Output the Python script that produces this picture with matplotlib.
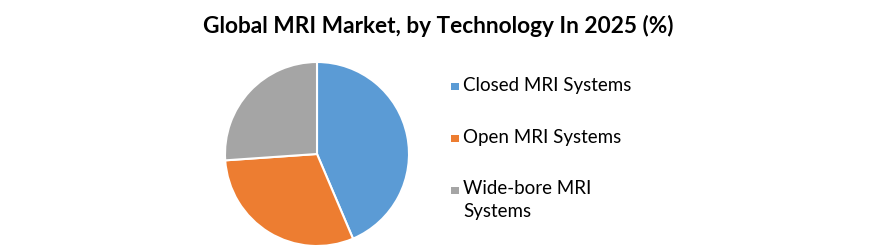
import matplotlib

matplotlib.use('Agg')
import matplotlib.pyplot as plt
from matplotlib.patches import Rectangle

# --- 데이터 ---
categories = ['Closed MRI Systems', 'Open MRI Systems', 'Wide-bore MRI\nSystems']
shares = [43.6, 30.3, 26.1]
colors = ['#5B9BD5', '#ED7D31', '#A5A5A5']

plt.rcParams['font.family'] = ['Lato', 'DejaVu Sans']

W, H = 876, 246
fig = plt.figure(figsize=(W / 100, H / 100), dpi=100)

# 파이 영역 (중심 약 317,154 / 반지름 약 92px)
cx, cy, r = 317, 154, 92
ax = fig.add_axes([(cx - r) / W, (H - cy - r) / H, 2 * r / W, 2 * r / H])
wedges, _ = ax.pie(shares, colors=colors, startangle=90, counterclock=False,
                   wedgeprops=dict(edgecolor='white', linewidth=1.5))
ax.set_xlim(-1.0, 1.0)
ax.set_ylim(-1.0, 1.0)
ax.set_aspect('equal')
for w in wedges:
    w.set_clip_on(False)

fig.text(0.5, 1 - 33 / H, 'Global MRI Market, by Technology In 2025 (%)',
         ha='center', va='baseline', fontsize=16.3, fontweight='bold', color='black')

# --- 범례 (첫 줄에 마커 정렬) ---
row_y = 86.5
for label, color in zip(categories, colors):
    size = 7.5
    fig.patches.append(Rectangle(((451) / W, 1 - (row_y + size / 2) / H), size / W, size / H,
                                 transform=fig.transFigure, facecolor=color, edgecolor='none'))
    fig.text(463 / W, 1 - (row_y - 10) / H, label, ha='left', va='top',
             fontsize=13.5, linespacing=1.42, color='black')
    row_y += 52

fig.savefig('out.png', dpi=100)
plt.close()
